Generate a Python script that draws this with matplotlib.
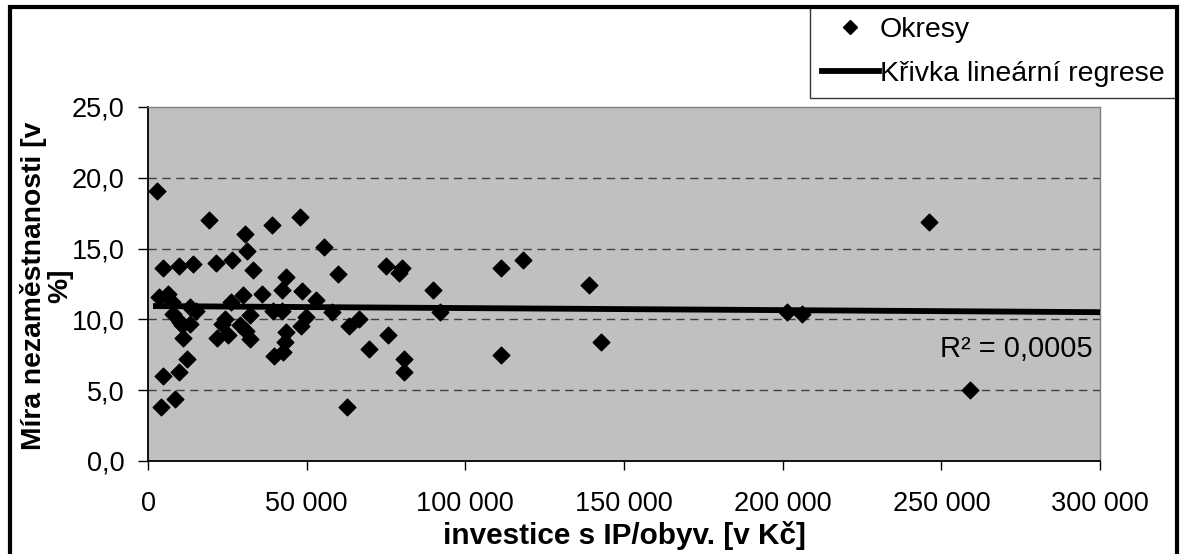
import matplotlib
matplotlib.use('Agg')
import matplotlib.pyplot as plt
from matplotlib.patches import Rectangle
from matplotlib.lines import Line2D
from matplotlib.ticker import FuncFormatter

plt.rcParams['font.family'] = ['Liberation Sans', 'DejaVu Sans']

# districts: investment per inhabitant [CZK] and unemployment rate [%]
invest = [
    2700, 19200, 39200, 47800, 30600, 31300, 55600, 4800, 9900, 14300,
    21400, 26400, 33000, 43400, 42100, 48400, 35800, 52900, 30000, 3500,
    6400, 7500, 26200, 13200, 15000, 8000, 39500, 42100, 32100, 57900,
    24300, 10100, 13200, 23200, 29000, 49800, 48200, 10600, 31000, 43600,
    11100, 21800, 25300, 32300, 43200, 42400, 39600, 12200, 4800, 9900,
    4000, 8500,
    60000, 74900, 79200, 80000, 111300, 118300, 139100, 89900, 92000, 63400,
    66500, 75500, 69800, 80700, 80700, 111300, 142800, 62800, 201300, 206200,
    246200, 259100,
]
unemployment = [
    19.1, 17.0, 16.7, 17.2, 16.0, 14.8, 15.1, 13.6, 13.8, 13.9,
    14.0, 14.2, 13.5, 13.0, 12.1, 12.0, 11.8, 11.4, 11.7, 11.6,
    11.8, 11.2, 11.2, 10.9, 10.6, 10.4, 10.6, 10.6, 10.3, 10.5,
    10.0, 9.8, 9.7, 9.7, 9.6, 10.2, 9.5, 9.6, 9.2, 9.1,
    8.7, 8.7, 8.9, 8.6, 8.4, 7.7, 7.4, 7.2, 6.0, 6.3,
    3.8, 4.4,
    13.2, 13.8, 13.3, 13.6, 13.6, 14.2, 12.4, 12.1, 10.5, 9.5,
    10.0, 8.9, 7.9, 7.2, 6.3, 7.5, 8.4, 3.8, 10.5, 10.4,
    16.9, 5.0,
]

# linear regression trend line
trend_x = [2500, 300000]
trend_y = [10.94, 10.51]
r2_text = 'R² = 0,0005'

x_ticks = [0, 50000, 100000, 150000, 200000, 250000, 300000]
y_ticks = [0, 5, 10, 15, 20, 25]

fig = plt.figure(figsize=(11.81, 5.54), dpi=100)
ax = fig.add_axes([148 / 1181, 1 - 461 / 554, 952 / 1181, 354 / 554])
ax.set_facecolor('#C0C0C0')

ax.scatter(invest, unemployment, marker='D', s=72, color='black', zorder=3, label='Okresy')
ax.plot(trend_x, trend_y, color='black', linewidth=4.2, zorder=4, label='Křivka lineární regrese')

ax.set_xlim(0, 300000)
ax.set_ylim(0, 25)
ax.set_xticks(x_ticks)
ax.set_yticks(y_ticks)
ax.xaxis.set_major_formatter(FuncFormatter(lambda v, p: f'{int(v):,}'.replace(',', ' ')))
ax.yaxis.set_major_formatter(FuncFormatter(lambda v, p: f'{v:.1f}'.replace('.', ',')))
ax.tick_params(axis='both', labelsize=19.5, direction='out', color='black', width=1)
ax.tick_params(axis='y', length=7, pad=10)
ax.tick_params(axis='x', length=6.5, pad=15)

for y in y_ticks[1:-1]:
    ax.axhline(y, color='#404040', linewidth=1, linestyle=(0, (6, 4)), zorder=1)

for side in ['top', 'right']:
    ax.spines[side].set_color('#808080')
    ax.spines[side].set_linewidth(1)
for side in ['left', 'bottom']:
    ax.spines[side].set_color('black')
    ax.spines[side].set_linewidth(1.3)

ax.text(0.9926, 0.317, r2_text, transform=ax.transAxes, ha='right', va='center', fontsize=21)

ax.set_xlabel('investice s IP/obyv. [v Kč]', fontsize=21.4, fontweight='bold', labelpad=3)
fig.text(47 / 1181, 1 - 286 / 554, 'Míra nezaměstnanosti [v\n%]', rotation=90,
         ha='center', va='center', multialignment='center',
         fontsize=20.3, fontweight='bold', linespacing=1.0)

handles = [
    Line2D([], [], marker='D', color='black', linestyle='none', markersize=7),
    Line2D([], [], color='black', linewidth=4.2),
]
leg = fig.legend(handles, ['Okresy', 'Křivka lineární regrese'], loc='upper right',
                 bbox_to_anchor=(1176 / 1181, 1 - 6 / 554), borderaxespad=0,
                 fontsize=20.5, frameon=True, fancybox=False, edgecolor='black',
                 handlelength=2.0, handletextpad=0.05, borderpad=0.4, labelspacing=0.62)
leg.get_frame().set_linewidth(1)

# outer chart frame
fig.patches.append(Rectangle((10 / 1181, -0.05), 1166.5 / 1181, 1.05 - 6.5 / 554,
                             transform=fig.transFigure, fill=False,
                             edgecolor='black', linewidth=3, zorder=10))

fig.savefig('out.png', dpi=100)
